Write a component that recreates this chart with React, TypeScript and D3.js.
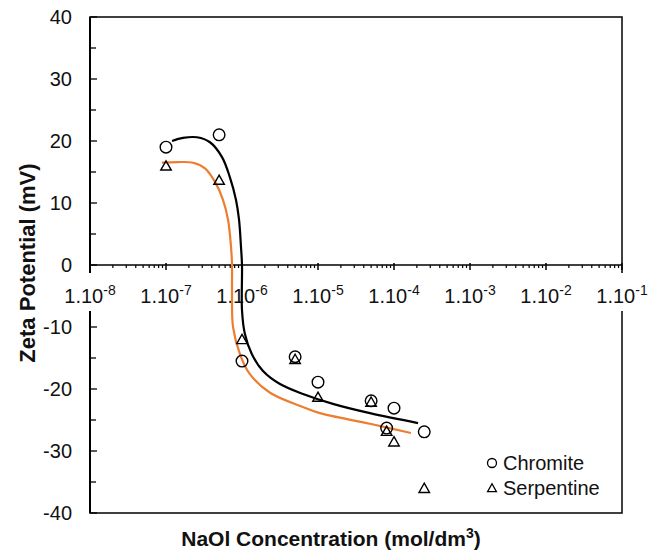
import React from "react";
import * as d3 from "d3";

// measured data (NaOl concentration in mol/dm3, zeta potential in mV)
const concentration = [1e-7, 5e-7, 1e-6, 5e-6, 1e-5, 5e-5, 8e-5, 1e-4, 2.5e-4];
const chromite = [19, 21, -15.5, -14.8, -18.9, -21.9, -26.3, -23.1, -26.9];
const serpentine = [16, 13.7, -12, -15.2, -21.3, -22.1, -26.8, -28.5, -36];

// hand-drawn trend lines
const chromiteFitX = [1.2e-7, 1.67e-7, 2.56e-7, 3.79e-7, 5.46e-7, 6.95e-7, 8.34e-7, 9.14e-7, 9.7e-7, 1.0e-6, 1.0e-6, 1.09e-6, 1.35e-6, 1.89e-6, 3.16e-6, 6.35e-6, 1.57e-5, 4.83e-5, 2.07e-4];
const chromiteFitY = [20.0, 20.5, 20.6, 19.8, 17.4, 14.1, 10.5, 7.3, 2.9, 0, -7.3, -11.1, -14.4, -17.1, -19.2, -20.8, -22.4, -23.9, -25.5];
const serpentineFitX = [8.86e-8, 1.4e-7, 2.27e-7, 3.26e-7, 4.42e-7, 5.62e-7, 6.55e-7, 7.17e-7, 7.39e-7, 7.39e-7, 7.62e-7, 9.42e-7, 1.27e-6, 2.34e-6, 6.35e-6, 1.06e-5, 4.83e-5, 1.67e-4];
const serpentineFitY = [16.5, 16.6, 16.5, 15.6, 13.4, 10.5, 7.3, 2.9, 0, -4.5, -10, -14.4, -17.6, -20.6, -22.9, -23.9, -25.6, -27.1];

const xTickExponents = [-8, -7, -6, -5, -4, -3, -2, -1];
const yTicks = [40, 30, 20, 10, 0, -10, -20, -30, -40];
const yMinorTicks = [35, 25, 15, 5, -5, -15, -25, -35];

const FONT = "'Liberation Sans', Arial, sans-serif";

export default function App() {
    const width = 651;
    const height = 552;
    const left = 90, right = 622, top = 17, bottom = 513;

    const x = d3.scaleLog().domain([1e-8, 1e-1]).range([left, right]);
    const y = d3.scaleLinear().domain([-40, 40]).range([bottom, top]);
    const y0 = y(0);

    const line = d3.line<[number, number]>()
        .x(d => x(d[0]))
        .y(d => y(d[1]))
        .curve(d3.curveCatmullRom.alpha(0.5));

    const chromitePath = line(chromiteFitX.map((c, i) => [c, chromiteFitY[i]]));
    const serpentinePath = line(serpentineFitX.map((c, i) => [c, serpentineFitY[i]]));

    const minorX: number[] = [];
    xTickExponents.slice(0, -1).forEach(e => {
        for (let k = 2; k <= 9; k++) minorX.push(k * Math.pow(10, e));
    });

    const triangle = (cx: number, cy: number, s: number) =>
        `M${cx},${cy - s} L${cx + s * 1.05},${cy + s * 0.85} L${cx - s * 1.05},${cy + s * 0.85} Z`;

    return (
        <svg width={width} height={height} style={{ position: "absolute", left: 0, top: 0 }} fontFamily={FONT}>
            <rect width={width} height={height} fill="white" />

            {/* frame */}
            <rect x={left} y={top} width={right - left} height={bottom - top} fill="none" stroke="black" strokeWidth={1.5} />
            <line x1={left} x2={left} y1={top} y2={bottom} stroke="black" strokeWidth={2} />

            {/* y ticks */}
            {yTicks.map(t => (
                <g key={"y" + t}>
                    <line x1={left} x2={left + 7} y1={y(t)} y2={y(t)} stroke="black" strokeWidth={1.3} />
                    <text x={72} y={y(t) + 7} textAnchor="end" fontSize={20} fill="#111">{t}</text>
                </g>
            ))}
            {yMinorTicks.map(t => (
                <line key={"ym" + t} x1={left} x2={left + 6} y1={y(t)} y2={y(t)} stroke="black" strokeWidth={1.3} />
            ))}

            {/* x axis at zero */}
            <line x1={left} x2={right} y1={y0} y2={y0} stroke="black" strokeWidth={1.5} />
            {minorX.map((v, i) => (
                <line key={"xm" + i} x1={x(v)} x2={x(v)} y1={y0} y2={y0 + 3} stroke="black" strokeWidth={1.2} />
            ))}
            {xTickExponents.map(e => (
                <line key={"xt" + e} x1={x(Math.pow(10, e))} x2={x(Math.pow(10, e))} y1={y0 - 2} y2={y0 + 5} stroke="black" strokeWidth={1.5} />
            ))}
            {xTickExponents.map(e => {
                const cx = x(Math.pow(10, e));
                return (
                    <g key={"xl" + e}>
                        <rect x={cx - 28} y={y0 + 8} width={56} height={38} fill="white" />
                        <text x={cx} y={y0 + 38} textAnchor="middle" fontSize={20} fill="#111">
                            1.10<tspan fontSize={14} dy={-8}>{e}</tspan>
                        </text>
                    </g>
                );
            })}

            {/* trend lines */}
            <path d={serpentinePath ?? ""} fill="none" stroke="#ED7D31" strokeWidth={2.2} />
            <path d={chromitePath ?? ""} fill="none" stroke="black" strokeWidth={2.2} />

            {/* markers */}
            {concentration.map((c, i) => (
                <circle key={"c" + i} cx={x(c)} cy={y(chromite[i])} r={5.8} fill="none" stroke="black" strokeWidth={1.4} />
            ))}
            {concentration.map((c, i) => (
                <path key={"s" + i} d={triangle(x(c), y(serpentine[i]), 5)} fill="none" stroke="black" strokeWidth={1.4} />
            ))}

            {/* legend */}
            <circle cx={492} cy={463} r={4.5} fill="none" stroke="black" strokeWidth={1.3} />
            <text x={503} y={470} fontSize={20} fill="#111">Chromite</text>
            <path d={triangle(492, 488, 4.2)} fill="none" stroke="black" strokeWidth={1.3} />
            <text x={503} y={495} fontSize={20} fill="#111">Serpentine</text>

            {/* axis titles */}
            <text x={331} y={546} textAnchor="middle" fontSize={21} fontWeight="bold" fill="#111">
                NaOl Concentration (mol/dm<tspan fontSize={14} dy={-8}>3</tspan><tspan dy={8}>)</tspan>
            </text>
            <text transform={`translate(35,263) rotate(-90)`} textAnchor="middle" fontSize={22} fontWeight="bold" fill="#111">
                Zeta Potential (mV)
            </text>
        </svg>
    );
}
